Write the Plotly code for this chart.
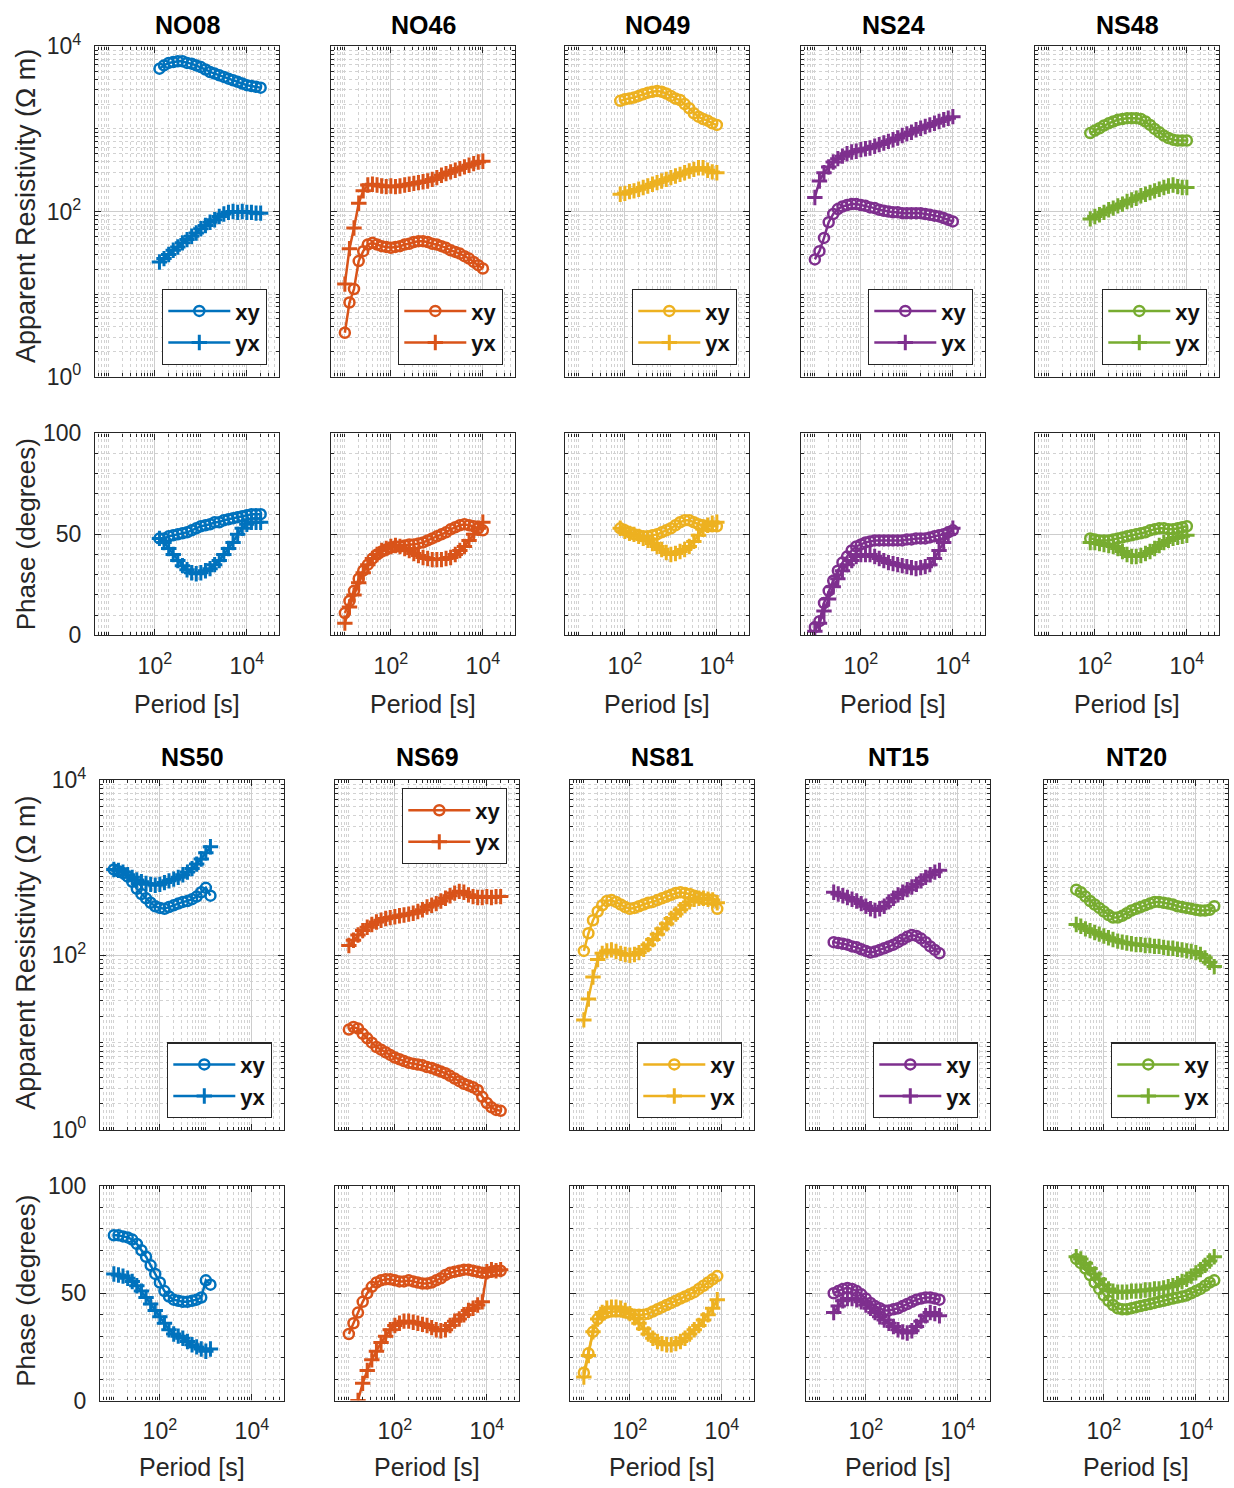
import math
import plotly.graph_objects as go

# Sounding periods (s) shared by all stations; each station uses a contiguous run
PERIOD_S = [7.94, 10.0, 12.6, 15.8, 20.0, 25.1, 31.6, 39.8, 50.1, 63.1, 79.4,
            100, 126, 158, 200, 251, 316, 398, 501, 631, 794,
            1000, 1259, 1585, 1995, 2512, 3162, 3981, 5012, 6310, 7943,
            10000, 12589, 15849, 19953, 25119, 31623]

STATIONS = ["NO08", "NO46", "NO49", "NS24", "NS48",
            "NS50", "NS69", "NS81", "NT15", "NT20"]
FIRST_PERIOD = {"NO08": 12, "NO46": 1, "NO49": 10, "NS24": 1, "NS48": 10,
                "NS50": 1, "NS69": 1, "NS81": 1, "NT15": 4, "NT20": 5}

# Apparent resistivity (ohm m) and phase (degrees) for the xy and yx modes
NO08_RHO_XY = [5370, 5890, 6310, 6460, 6610, 6610, 6310, 6170, 5890, 5620, 5250, 4900,
               4680, 4470, 4270, 4070, 3890, 3720, 3550, 3390, 3310, 3240, 3160]
NO08_RHO_YX = [24.5, 26.9, 30.2, 33.9, 37.2, 41.7, 45.7, 50.1, 55.0, 61.7, 67.6, 74.1,
               79.4, 87.1, 93.3, 97.7, 100, 97.7, 100, 97.7, 97.7, 95.5, 95.5]
NO08_PHI_XY = [48, 48, 49, 49.5, 50, 50.5, 51, 52, 53, 54, 54.5, 55, 56, 56, 57, 57.5,
               58, 58.5, 59, 59.5, 60, 60, 60]
NO08_PHI_YX = [48, 46, 43, 40, 37, 34.5, 32.5, 31, 30.5, 31, 32, 33, 35, 37, 40, 43,
               46, 50, 53, 55, 56, 56, 56]

NO46_RHO_XY = [3.4, 7.9, 11.5, 25.1, 33.1, 39.8, 41.7, 39.8, 38.0, 37.2, 36.3, 37.2,
               38.0, 39.8, 40.7, 42.7, 43.7, 43.7, 42.7, 40.7, 39.8, 38.0, 36.3, 33.9,
               32.4, 30.9, 28.8, 26.9, 24.5, 22.4, 20.4]
NO46_RHO_YX = [13.2, 35.5, 63.1, 126, 178, 209, 214, 209, 204, 200, 204, 200, 204, 209,
               214, 219, 224, 229, 234, 245, 257, 275, 288, 302, 316, 331, 347, 363,
               380, 398, 407]
NO46_PHI_XY = [11, 17, 22, 28, 32, 35, 38, 40, 41.5, 42.5, 43.5, 44, 44, 44.5, 45, 45,
               45.5, 46, 47, 48, 49, 50, 51, 52.5, 53.5, 54.5, 55, 54.5, 54, 53, 52]
NO46_PHI_YX = [6, 14, 20, 26, 31, 35, 38, 40, 42, 43, 44, 44.5, 44, 43, 42, 40.5, 39.5,
               38.5, 38, 37.5, 37.5, 37.5, 38, 38.5, 40, 42, 44, 47, 50, 53, 56]

NO49_RHO_XY = [2190, 2290, 2340, 2400, 2510, 2630, 2750, 2820, 2880, 2820, 2690, 2510,
               2340, 2240, 2000, 1780, 1550, 1410, 1320, 1260, 1170, 1120]
NO49_RHO_YX = [162, 166, 174, 178, 186, 195, 204, 214, 224, 234, 245, 257, 269, 282,
               295, 309, 324, 339, 339, 316, 302, 295]
NO49_PHI_XY = [53, 52, 51, 50, 49.5, 49, 49, 49.5, 50, 51, 52, 53, 54.5, 56, 57, 57,
               56, 55, 54.5, 54, 54, 54]
NO49_PHI_YX = [53, 51.5, 50.5, 50, 49, 48, 47, 45.5, 44, 42.5, 41, 40, 40.5, 41.5, 42.5,
               44, 46.5, 49.5, 52.5, 54.5, 55.5, 56]

NS24_RHO_XY = [26.3, 33.1, 47.9, 74.1, 93.3, 107, 115, 120, 123, 123, 120, 117, 112,
               110, 105, 102, 100, 97.7, 97.7, 95.5, 95.5, 95.5, 95.5, 95.5, 93.3, 91.2,
               89.1, 87.1, 83.2, 79.4, 75.9]
NS24_RHO_YX = [148, 234, 295, 347, 398, 437, 468, 501, 525, 537, 562, 575, 589, 617,
               646, 676, 708, 741, 776, 832, 871, 912, 977, 1020, 1070, 1120, 1170,
               1230, 1290, 1350, 1410]
NS24_PHI_XY = [4, 7, 16, 22, 27, 32, 36, 39, 42, 44, 45, 46, 46.5, 47, 47, 47, 47, 47,
               47, 47, 47.5, 47.5, 48, 48, 48, 48.5, 49, 49.5, 50, 51, 52]
NS24_PHI_YX = [2, 6, 12, 18, 24, 28, 32, 35, 37, 39, 40, 40, 40, 39, 38, 37, 36, 35.5,
               35, 34.5, 34, 33.5, 33, 33.5, 34, 35, 38, 42, 46, 50, 53]

NS48_RHO_XY = [891, 955, 1020, 1100, 1170, 1230, 1290, 1320, 1350, 1350, 1350, 1320,
               1230, 1120, 1000, 912, 832, 776, 741, 724, 724, 724]
NS48_RHO_YX = [81.3, 87.1, 91.2, 97.7, 105, 110, 117, 123, 132, 138, 145, 155, 162,
               170, 178, 186, 195, 204, 209, 200, 195, 195]
NS48_PHI_XY = [48, 47.5, 47, 47, 47, 47.5, 48, 48.5, 49, 49.5, 50, 50.5, 51, 52, 52.5,
               53, 53, 52.5, 52.5, 53, 53.5, 54]
NS48_PHI_YX = [46, 46, 45.5, 45, 44.5, 44, 43, 41.5, 40, 39, 39, 39.5, 40.5, 41.5, 43,
               44.5, 46, 47, 48, 48.5, 49, 49.5]

NS50_RHO_XY = [955, 912, 871, 794, 692, 575, 501, 447, 398, 363, 347, 339, 355, 372,
               389, 407, 417, 437, 468, 525, 589, 479]
NS50_RHO_YX = [955, 933, 891, 832, 776, 724, 692, 661, 646, 631, 646, 676, 708, 741,
               776, 832, 891, 977, 1100, 1260, 1480, 1740]
NS50_PHI_XY = [77, 77, 76.5, 76, 75, 73, 70, 67, 63, 59, 55, 51, 48.5, 47, 46.5, 46,
               46, 46.5, 47, 48, 56, 54]
NS50_PHI_YX = [59, 58.5, 58, 57, 55.5, 53.5, 51, 48, 45, 42, 39, 36, 33, 31, 30, 29,
               27.5, 26, 25, 24, 23, 24]

NS69_RHO_XY = [14.1, 15.1, 14.5, 12.6, 11.2, 10.0, 8.91, 8.32, 7.76, 7.24, 6.76, 6.46,
               6.17, 5.89, 5.75, 5.62, 5.50, 5.25, 5.13, 4.90, 4.68, 4.47, 4.17, 3.89,
               3.63, 3.39, 3.24, 3.09, 2.88, 2.40, 2.04, 1.82, 1.70, 1.66]
NS69_RHO_YX = [129, 148, 170, 191, 209, 224, 240, 251, 263, 269, 275, 282, 288, 295,
               302, 316, 331, 355, 372, 389, 417, 447, 479, 513, 537, 525, 490, 468,
               457, 457, 468, 457, 468, 468]
NS69_PHI_XY = [31, 36, 41, 46, 50, 53, 55, 56, 56.5, 56.5, 56, 55.5, 55.5, 56, 55.5, 55,
               54.5, 54.5, 55, 56, 57, 58.5, 59.5, 60, 60.5, 61, 61, 60.5, 60, 59.5,
               59.5, 60, 60.5, 60.5]
NS69_PHI_YX = [None, None, 0, 8, 14, 19, 23, 27, 30, 33, 35, 36, 37, 37, 36.5, 36,
               35.5, 35, 34, 33, 32.5, 33, 35, 37, 38, 40, 42, 43, 44.5, 46, 60, 61,
               60.5, 61]

NS81_RHO_XY = [112, 178, 251, 316, 372, 417, 427, 407, 380, 355, 339, 347, 363, 380,
               398, 407, 427, 447, 468, 490, 513, 525, 513, 501, 479, 457, 437, 437,
               427, 339]
NS81_RHO_YX = [18.2, 31.6, 56.2, 89.1, 105, 112, 115, 110, 105, 102, 100, 102, 107,
               117, 132, 151, 174, 200, 229, 263, 295, 331, 372, 407, 437, 447, 447,
               437, 427, 398]
NS81_PHI_XY = [13, 22, 32, 38, 40, 41, 41.5, 41.5, 41.5, 41, 40.5, 40, 40, 40, 40.5,
               41.5, 42.5, 43.5, 44.5, 45.5, 46.5, 47.5, 48.5, 49.5, 50.5, 52, 53.5,
               55, 56.5, 58]
NS81_PHI_YX = [11, 21, 32, 38, 41, 43, 43.5, 43.5, 43, 42, 40.5, 38.5, 36, 33.5, 31, 29,
               27.5, 26.5, 26, 26, 26.5, 27.5, 29, 31, 33, 35, 37.5, 40, 43, 47]

NT15_RHO_XY = [141, 138, 135, 132, 126, 123, 117, 112, 107, 110, 115, 120, 126, 132,
               141, 151, 162, 170, 166, 155, 141, 126, 115, 105]
NT15_RHO_YX = [525, 501, 479, 457, 437, 417, 389, 363, 339, 324, 339, 363, 407, 447,
               490, 525, 562, 603, 646, 708, 776, 832, 891, 933]
NT15_PHI_XY = [50, 51, 52, 52.5, 52, 51, 49.5, 47.5, 45.5, 44, 43, 42, 42, 42.5, 43,
               44, 45, 46, 47, 47.5, 48, 48, 47.5, 47]
NT15_PHI_YX = [41, 44, 46.5, 47.5, 47.5, 47, 46, 44.5, 43, 41, 39, 37.5, 36, 34.5, 33,
               32, 31.5, 32.5, 34.5, 37, 39.5, 41, 40.5, 39.5]

NT20_RHO_XY = [562, 525, 468, 417, 380, 347, 316, 288, 269, 269, 282, 302, 324, 339,
               355, 372, 389, 407, 407, 398, 389, 380, 363, 355, 347, 339, 331, 324,
               324, 331, 363]
NT20_RHO_YX = [224, 214, 200, 191, 182, 174, 166, 158, 151, 145, 141, 138, 135, 132,
               132, 129, 129, 126, 126, 123, 120, 120, 117, 115, 112, 110, 107, 102,
               93.3, 83.2, 74.1]
NT20_PHI_XY = [66, 64, 61.5, 58.5, 55, 52, 49, 46.5, 44.5, 43, 42.5, 42.5, 43, 43.5,
               44, 44.5, 45, 45.5, 46, 46.5, 47, 47.5, 48, 48.5, 49, 50, 51, 52, 53.5,
               55, 56]
NT20_PHI_YX = [67, 66, 64, 61.5, 59, 56.5, 54, 52, 51, 50.5, 50.5, 50.5, 51, 51, 51,
               51.5, 51.5, 52, 52, 52.5, 53, 53.5, 54.5, 55.5, 56.5, 58, 59.5, 61, 63,
               65, 67]

SERIES = {
    "NO08": (NO08_RHO_XY, NO08_RHO_YX, NO08_PHI_XY, NO08_PHI_YX),
    "NO46": (NO46_RHO_XY, NO46_RHO_YX, NO46_PHI_XY, NO46_PHI_YX),
    "NO49": (NO49_RHO_XY, NO49_RHO_YX, NO49_PHI_XY, NO49_PHI_YX),
    "NS24": (NS24_RHO_XY, NS24_RHO_YX, NS24_PHI_XY, NS24_PHI_YX),
    "NS48": (NS48_RHO_XY, NS48_RHO_YX, NS48_PHI_XY, NS48_PHI_YX),
    "NS50": (NS50_RHO_XY, NS50_RHO_YX, NS50_PHI_XY, NS50_PHI_YX),
    "NS69": (NS69_RHO_XY, NS69_RHO_YX, NS69_PHI_XY, NS69_PHI_YX),
    "NS81": (NS81_RHO_XY, NS81_RHO_YX, NS81_PHI_XY, NS81_PHI_YX),
    "NT15": (NT15_RHO_XY, NT15_RHO_YX, NT15_PHI_XY, NT15_PHI_YX),
    "NT20": (NT20_RHO_XY, NT20_RHO_YX, NT20_PHI_XY, NT20_PHI_YX),
}

X_TICKS = [1e2, 1e4]
X_TICKTEXT = ["10<sup>2</sup>", "10<sup>4</sup>"]
RHO_TICKS = [1, 1e2, 1e4]
RHO_TICKTEXT = ["10<sup>0</sup>", "10<sup>2</sup>", "10<sup>4</sup>"]
PHI_TICKS = [0, 50, 100]
PHI_TICKTEXT = ["0", "50", "100"]

COLORS = ["#0072BD", "#D95319", "#EDB120", "#7E2F8E", "#77AC30"]

# ---- page geometry (pixels) ----
W, H = 1234, 1488
PANEL_W = 184
BLOCKS = [
    dict(lefts=[95, 331, 565, 801, 1035], res=(30, 367), phs=(425, 631),
         title_y=8, xlabel_y=701, res_label_y=193, phs_label_y=528),
    dict(lefts=[100, 335, 570, 806, 1044], res=(779, 1136), phs=(1193, 1412),
         title_y=755, xlabel_y=1480, res_label_y=955, phs_label_y=1300),
]

FONT = "Liberation Sans, Arial, Helvetica, sans-serif"
AX_COLOR = "#262626"
GRID_MAJOR = "#cdcdcd"
GRID_MINOR = "#d2d2d2"

MINOR_X = [k * 10 ** e for e in range(0, 5) for k in range(1, 10)
           if 5 <= k * 10 ** e <= 5e4 and k * 10 ** e not in (1e2, 1e4)]
MINOR_RHO = [k * 10 ** e for e in range(0, 4) for k in range(1, 10)
             if k * 10 ** e not in (1, 1e2)]
MINOR_PHI = [10, 20, 30, 40, 60, 70, 80, 90]


def px_x(px):
    return px / W


def px_y(px):
    return 1 - px / H


def axis_style(tickvals, ticktext, minor_vals, show_labels, standoff):
    return dict(
        tickmode="array", tickvals=tickvals, ticktext=ticktext,
        showticklabels=show_labels, ticks="inside", ticklen=6, tickwidth=1,
        tickcolor=AX_COLOR, showline=True, linecolor=AX_COLOR, linewidth=1.3,
        mirror="allticks", showgrid=True, gridcolor=GRID_MAJOR, gridwidth=1,
        zeroline=False, ticklabelstandoff=standoff,
        tickfont=dict(family=FONT, size=23, color=AX_COLOR),
        minor=dict(tickmode="array", tickvals=minor_vals, ticks="inside",
                   ticklen=3, tickcolor=AX_COLOR, showgrid=True,
                   gridcolor=GRID_MINOR, griddash="dot", gridwidth=1),
    )


fig = go.Figure()
layout = {}
annotations = []

x_range = [math.log10(5), math.log10(5e4)]

for k, name in enumerate(STATIONS):
    block = BLOCKS[k // 5]
    col = k % 5
    color = COLORS[col]
    left = block["lefts"][col]
    right = left + PANEL_W
    first = FIRST_PERIOD[name]
    rho_xy, rho_yx, phi_xy, phi_yx = SERIES[name]
    periods = PERIOD_S[first:first + len(rho_xy)]
    legend_id = "legend" if k == 0 else f"legend{k + 1}"

    n_res, n_phs = 2 * k + 1, 2 * k + 2
    for n, (top, bottom), is_phase in ((n_res, block["res"], False),
                                       (n_phs, block["phs"], True)):
        xa = axis_style(X_TICKS, X_TICKTEXT, MINOR_X, is_phase, 10)
        xa.update(type="log", range=x_range, domain=[px_x(left), px_x(right)],
                  anchor=f"y{n}")
        if is_phase:
            ya = axis_style(PHI_TICKS, PHI_TICKTEXT, MINOR_PHI, col == 0, 8)
            ya.update(range=[0, 100])
        else:
            ya = axis_style(RHO_TICKS, RHO_TICKTEXT, MINOR_RHO, col == 0, 8)
            ya.update(type="log", range=[0, 4])
        ya.update(domain=[px_y(bottom), px_y(top)], anchor=f"x{n}")
        layout[f"xaxis{n}"] = xa
        layout[f"yaxis{n}"] = ya

    marker_xy = dict(symbol="circle-open", size=10, color=color,
                     line=dict(width=2.5, color=color))
    marker_yx = dict(symbol="cross-thin-open", size=11, color=color,
                     line=dict(width=3, color=color))
    line = dict(color=color, width=2.5)

    for n, y_xy, y_yx, show in ((n_res, rho_xy, rho_yx, True),
                                (n_phs, phi_xy, phi_yx, False)):
        fig.add_trace(go.Scatter(
            x=periods, y=y_xy, mode="lines+markers", name="xy", line=line,
            marker=marker_xy, xaxis=f"x{n}", yaxis=f"y{n}", legend=legend_id,
            showlegend=show, cliponaxis=True))
        fig.add_trace(go.Scatter(
            x=periods, y=y_yx, mode="lines+markers", name="yx", line=line,
            marker=marker_yx, xaxis=f"x{n}", yaxis=f"y{n}", legend=legend_id,
            showlegend=show, cliponaxis=True, connectgaps=False))

    res_top, res_bottom = block["res"]
    if name == "NS69":
        leg_pos = dict(y=px_y(res_top + 8), yanchor="top")
    else:
        leg_pos = dict(y=px_y(res_bottom - 12), yanchor="bottom")
    layout[legend_id] = dict(
        x=px_x(right - 12), xanchor="right", xref="paper", yref="paper",
        bgcolor="white", bordercolor=AX_COLOR, borderwidth=1.3,
        font=dict(family=FONT, size=22, color="#111111", weight="bold"),
        itemwidth=62, tracegroupgap=0, traceorder="normal", **leg_pos)

    center = (left + right) / 2
    annotations.append(dict(
        text=f"<b>{name}</b>", x=px_x(center), y=px_y(block["title_y"]),
        xref="paper", yref="paper", showarrow=False, xanchor="center",
        yanchor="middle", font=dict(family=FONT, size=25, color="#000000")))
    annotations.append(dict(
        text="Period [s]", x=px_x(center), y=px_y(block["xlabel_y"]),
        xref="paper", yref="paper", showarrow=False, xanchor="center",
        yanchor="middle", font=dict(family=FONT, size=25, color=AX_COLOR)))

for block in BLOCKS:
    annotations.append(dict(
        text="Apparent Resistivity (Ω m)", x=px_x(26), y=px_y(block["res_label_y"]),
        xref="paper", yref="paper", showarrow=False, textangle=-90,
        xanchor="center", yanchor="middle",
        font=dict(family=FONT, size=27, color=AX_COLOR)))
    annotations.append(dict(
        text="Phase (degrees)", x=px_x(26), y=px_y(block["phs_label_y"]),
        xref="paper", yref="paper", showarrow=False, textangle=-90,
        xanchor="center", yanchor="middle",
        font=dict(family=FONT, size=26, color=AX_COLOR)))

fig.update_layout(
    width=W, height=H, autosize=False,
    margin=dict(l=0, r=0, t=0, b=0, pad=0),
    paper_bgcolor="white", plot_bgcolor="white",
    font=dict(family=FONT, color=AX_COLOR),
    annotations=annotations, **layout)

fig.write_html("out.html")
